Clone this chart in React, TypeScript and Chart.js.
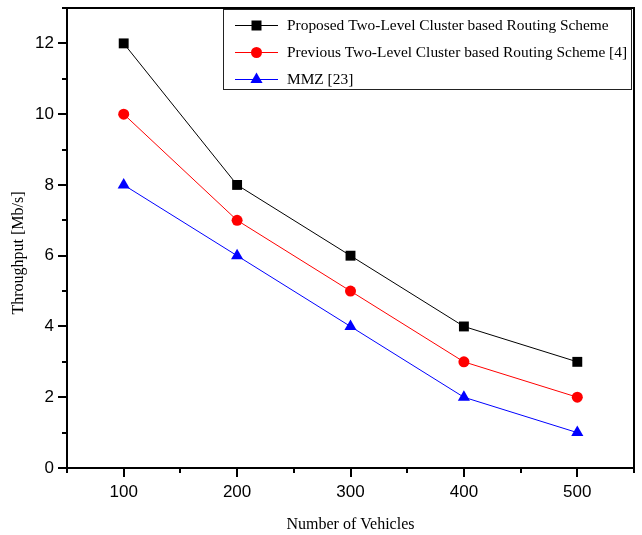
import React, { useEffect, useRef } from 'react';
import { Chart, registerables } from 'chart.js';
Chart.register(...registerables);

const vehicles = [100, 200, 300, 400, 500];
const proposed = [12, 8, 6, 4, 3];
const previous = [10, 7, 5, 3, 2];
const mmz = [8, 6, 4, 2, 1];
const seriesLabels = [
  'Proposed Two-Level Cluster based Routing Scheme',
  'Previous Two-Level Cluster based Routing Scheme [4]',
  'MMZ [23]',
];
const seriesColors = ['#000000', '#ff0000', '#0000ff'];
const seriesShapes = ['rect', 'circle', 'triangle'];
const xMajorTicks = [100, 200, 300, 400, 500];
const xMinorTicks = [50, 150, 250, 350, 450, 550];
const yMajorTicks = [0, 2, 4, 6, 8, 10, 12];
const yMinorTicks = [1, 3, 5, 7, 9, 11, 13];
const xTitle = 'Number of Vehicles';
const yTitle = 'Throughput [Mb/s]';

function drawMarker(ctx: CanvasRenderingContext2D, shape: string, x: number, y: number, color: string) {
  ctx.save();
  ctx.fillStyle = color;
  ctx.beginPath();
  if (shape === 'rect') {
    ctx.rect(x - 5, y - 5, 10, 10);
  } else if (shape === 'circle') {
    ctx.arc(x, y, 5.5, 0, Math.PI * 2);
  } else {
    const r = 7;
    ctx.moveTo(x, y - r);
    ctx.lineTo(x + r * Math.sin(Math.PI / 3), y + r * 0.5);
    ctx.lineTo(x - r * Math.sin(Math.PI / 3), y + r * 0.5);
    ctx.closePath();
  }
  ctx.fill();
  ctx.restore();
}

const framePlugin = {
  id: 'frameAndLegend',
  afterDraw(chart: any) {
    const { ctx, chartArea, scales } = chart;
    const { left, right, top, bottom } = chartArea;
    const x = scales.x;
    const y = scales.y;
    ctx.save();
    ctx.strokeStyle = '#000';
    ctx.lineWidth = 2;
    ctx.strokeRect(left, top, right - left, bottom - top);
    ctx.beginPath();
    xMajorTicks.forEach((v) => {
      const px = Math.round(x.getPixelForValue(v));
      ctx.moveTo(px, bottom);
      ctx.lineTo(px, bottom + 9);
    });
    xMinorTicks.forEach((v) => {
      const px = Math.round(x.getPixelForValue(v));
      ctx.moveTo(px, bottom);
      ctx.lineTo(px, bottom + 5);
    });
    yMajorTicks.forEach((v) => {
      const py = Math.round(y.getPixelForValue(v));
      ctx.moveTo(left, py);
      ctx.lineTo(left - 9, py);
    });
    yMinorTicks.forEach((v) => {
      const py = Math.round(y.getPixelForValue(v));
      ctx.moveTo(left, py);
      ctx.lineTo(left - 5, py);
    });
    ctx.stroke();

    // axis titles
    ctx.fillStyle = '#000';
    ctx.font = "16px 'Liberation Serif'";
    ctx.textAlign = 'center';
    ctx.textBaseline = 'alphabetic';
    ctx.fillText(xTitle, (left + right) / 2, 529);
    ctx.save();
    ctx.translate(23, 253);
    ctx.rotate(-Math.PI / 2);
    ctx.fillText(yTitle, 0, 0);
    ctx.restore();

    // legend
    const lx = 223.5, ly = 9.5, lw = 408, lh = 80;
    ctx.fillStyle = '#fff';
    ctx.fillRect(lx, ly, lw, lh);
    ctx.strokeStyle = '#222';
    ctx.lineWidth = 1;
    ctx.strokeRect(lx, ly, lw, lh);
    const rows = [25, 52, 79];
    ctx.font = "15.4px 'Liberation Serif'";
    ctx.textAlign = 'left';
    ctx.textBaseline = 'middle';
    seriesLabels.forEach((lab, i) => {
      const ry = rows[i];
      ctx.strokeStyle = seriesColors[i];
      ctx.lineWidth = 1;
      ctx.beginPath();
      ctx.moveTo(235, ry + 0.5);
      ctx.lineTo(278, ry + 0.5);
      ctx.stroke();
      drawMarker(ctx, seriesShapes[i], 256.5, ry + 0.5, seriesColors[i]);
      ctx.fillStyle = '#000';
      ctx.fillText(lab, 287, ry + 1);
    });
    ctx.restore();
  },
};

export default function App() {
  const ref = useRef<HTMLCanvasElement>(null);
  useEffect(() => {
    if (!ref.current) return;
    const seriesData = [proposed, previous, mmz];
    const chart = new Chart(ref.current, {
      type: 'line',
      data: {
        datasets: seriesData.map((vals, i) => ({
          label: seriesLabels[i],
          data: vals.map((v, j) => ({ x: vehicles[j], y: v })),
          borderColor: seriesColors[i],
          backgroundColor: seriesColors[i],
          borderWidth: 1,
          pointStyle: seriesShapes[i] as any,
          pointRadius: seriesShapes[i] === 'circle' ? 5.5 : 7,
          pointBorderWidth: 0,
          tension: 0,
        })),
      },
      options: {
        responsive: false,
        animation: false,
        layout: { padding: { left: 0, right: 8, top: 8, bottom: 0 } },
        plugins: { legend: { display: false }, tooltip: { enabled: false } },
        scales: {
          x: {
            type: 'linear',
            min: 50,
            max: 550,
            afterBuildTicks: (s: any) => {
              s.ticks = xMajorTicks.map((v) => ({ value: v }));
            },
            afterFit: (s: any) => {
              s.height = 67;
              s.paddingLeft = 0;
              s.paddingRight = 0;
            },
            grid: { display: false, drawTicks: false },
            border: { display: false },
            ticks: {
              padding: 14,
              color: '#000',
              font: { family: "'Liberation Sans', Arial", size: 17 },
              callback: (v: any) => String(v),
            },
          },
          y: {
            type: 'linear',
            min: 0,
            max: 13,
            afterBuildTicks: (s: any) => {
              s.ticks = yMajorTicks.map((v) => ({ value: v }));
            },
            afterFit: (s: any) => {
              s.width = 67;
              s.paddingTop = 0;
              s.paddingBottom = 0;
            },
            grid: { display: false, drawTicks: false },
            border: { display: false },
            ticks: {
              padding: 13,
              color: '#000',
              font: { family: "'Liberation Sans', Arial", size: 17 },
              callback: (v: any) => String(v),
            },
          },
        },
      },
      plugins: [framePlugin],
    });
    return () => chart.destroy();
  }, []);
  return (
    <div style={{ position: 'fixed', left: 0, top: 0, width: 642, height: 535, background: '#fff' }}>
      <canvas ref={ref} width={642} height={535} />
    </div>
  );
}
